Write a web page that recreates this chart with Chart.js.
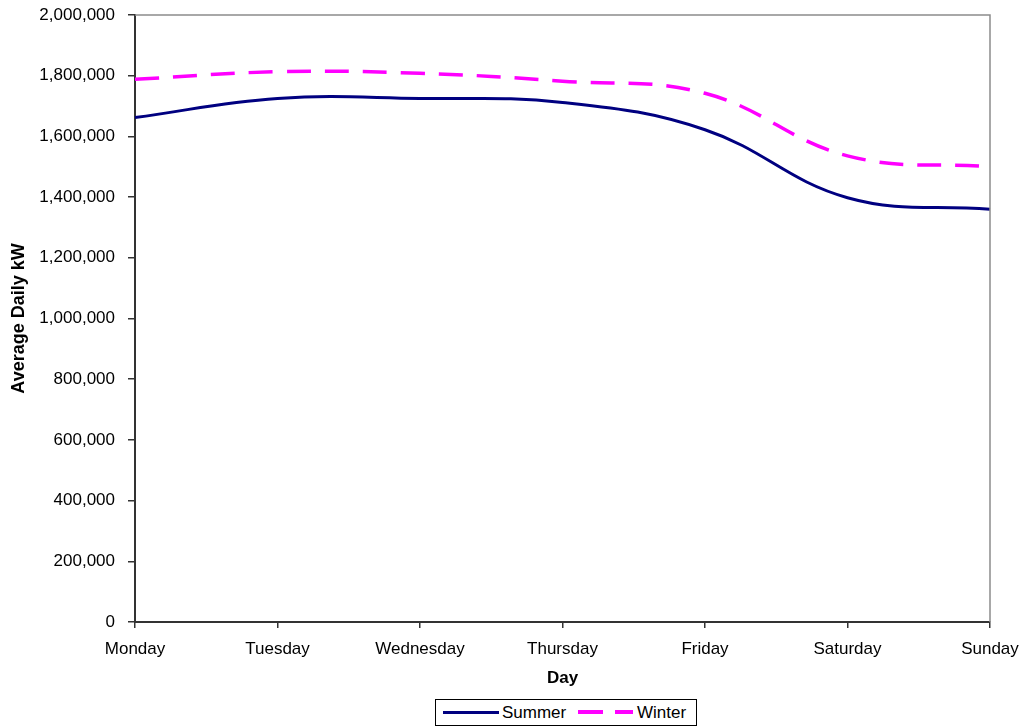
<!DOCTYPE html>
<html>
<head>
<meta charset="utf-8">
<script src="https://cdn.jsdelivr.net/npm/chart.js@4.4.0/dist/chart.umd.min.js"></script>
<style>
  html, body { margin: 0; padding: 0; background: #fff; }
  #wrap { position: relative; width: 1021px; height: 728px; }
  #legend {
    position: absolute; left: 435px; top: 699px; width: 262px; height: 27px;
    border: 1px solid #000; background: #fff; box-sizing: border-box;
    font: 17px "Liberation Sans", Arial, sans-serif; color: #000;
  }
  #legend span { position: absolute; }
  .txt { top: 3px; line-height: 19px; }
  .solid { top: 11px; height: 3px; background: #000080; }
  .dash { top: 10px; height: 4px; background: #ff00ff; }
</style>
</head>
<body>
<div id="wrap">
  <canvas id="chart" width="1021" height="728"></canvas>
  <div id="legend">
    <span class="solid" style="left:7px;width:56px"></span>
    <span class="txt" style="left:66px">Summer</span>
    <span class="dash" style="left:142px;width:25px"></span>
    <span class="dash" style="left:179px;width:18px"></span>
    <span class="txt" style="left:201px">Winter</span>
  </div>
</div>
<script>
// ---------- DATA ----------
const days = ["Monday", "Tuesday", "Wednesday", "Thursday", "Friday", "Saturday", "Sunday"];
const summer = [1662000, 1725000, 1725000, 1712000, 1622000, 1398000, 1360000];
const winter = [1788000, 1813000, 1808000, 1782000, 1742000, 1536000, 1500000];
const yTicks = [0, 200000, 400000, 600000, 800000, 1000000, 1200000, 1400000, 1600000, 1800000, 2000000];

const FONT = "'Liberation Sans', Arial, sans-serif";

// gray frame on top/right of plot area
const frame = {
  id: "frame",
  afterDraw(chart) {
    const a = chart.chartArea, c = chart.ctx;
    c.save();
    c.strokeStyle = "#8c8c8c";
    c.lineWidth = 1.5;
    c.beginPath();
    c.moveTo(a.left, a.top);
    c.lineTo(a.right, a.top);
    c.lineTo(a.right, a.bottom);
    c.stroke();
    c.restore();
  }
};

new Chart(document.getElementById("chart"), {
  type: "line",
  data: {
    labels: days,
    datasets: [
      {
        label: "Summer",
        data: summer,
        borderColor: "#000080",
        borderWidth: 3,
        pointRadius: 0,
        tension: 0.4,
        fill: false
      },
      {
        label: "Winter",
        data: winter,
        borderColor: "#ff00ff",
        borderWidth: 3.5,
        borderDash: [24, 14],
        pointRadius: 0,
        tension: 0.4,
        fill: false
      }
    ]
  },
  options: {
    responsive: false,
    animation: false,
    layout: { padding: { top: 15, right: 31, left: 0, bottom: 0 } },
    plugins: {
      legend: { display: false },
      tooltip: { enabled: false }
    },
    scales: {
      x: {
        offset: false,
        grid: { drawOnChartArea: false, drawTicks: true, tickLength: 6, color: "#333", lineWidth: 1.5 },
        border: { display: true, color: "#333", width: 2 },
        ticks: { color: "#000", font: { family: FONT, size: 17 }, padding: 11, maxRotation: 0, autoSkip: false },
        title: { display: true, text: "Day", color: "#000", font: { family: FONT, size: 17, weight: "bold" }, padding: { top: 6, bottom: 39 } },
        afterFit(s) { s.height = 106; s.paddingLeft = 0; s.paddingRight = 0; }
      },
      y: {
        min: 0,
        max: 2000000,
        afterBuildTicks(s) { s.ticks = yTicks.map(v => ({ value: v })); },
        grid: { drawOnChartArea: false, drawTicks: true, tickLength: 7, color: "#333", lineWidth: 1.5 },
        border: { display: true, color: "#333", width: 2 },
        ticks: {
          color: "#000",
          font: { family: FONT, size: 17 },
          padding: 13,
          callback: v => v.toLocaleString("en-US")
        },
        title: { display: true, text: "Average Daily kW", color: "#000", font: { family: FONT, size: 18, weight: "bold" }, padding: { top: 8, bottom: 4 } },
        afterFit(s) { s.width = 135; s.paddingTop = 0; s.paddingBottom = 0; }
      }
    }
  },
  plugins: [frame]
});
</script>
</body>
</html>
